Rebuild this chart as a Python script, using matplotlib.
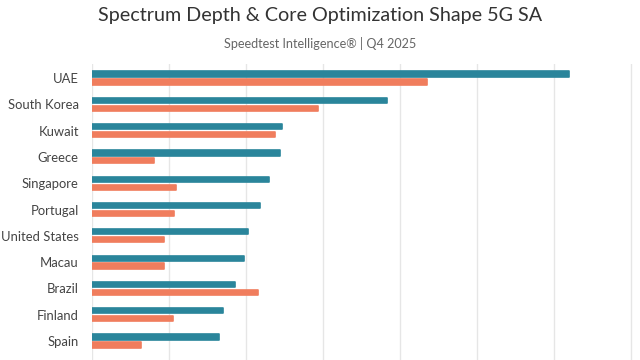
import matplotlib.pyplot as plt
import numpy as np

plt.rcParams['font.family'] = ['Lato', 'DejaVu Sans']

countries = ['UAE', 'South Korea', 'Kuwait', 'Greece', 'Singapore', 'Portugal',
             'United States', 'Macau', 'Brazil', 'Finland', 'Spain']
# values, in gridline units
series_a = [6.19, 3.83, 2.47, 2.44, 2.30, 2.18, 2.02, 1.97, 1.86, 1.70, 1.65]
series_b = [4.35, 2.94, 2.38, 0.81, 1.09, 1.07, 0.94, 0.94, 2.16, 1.05, 0.64]

teal = '#2A859B'
orange = '#F07D5D'

fig = plt.figure(figsize=(6.4, 3.6), dpi=100)
ax = fig.add_axes([92 / 640, 0, 548 / 640, 296 / 360])

y = np.arange(len(countries))
h = 0.2
off = 0.15
ax.barh(y - off, series_a, height=h, color=teal, edgecolor=teal,
        linewidth=1.2, joinstyle='round', zorder=3)
ax.barh(y + off, series_b, height=h, color=orange, edgecolor=orange,
        linewidth=1.2, joinstyle='round', zorder=3)

ax.set_xlim(0, 548 / 77)
ax.set_ylim(10.72, -0.53)
ax.set_xticks(np.arange(0, 8))
ax.set_xticklabels([])
ax.set_yticks(y)
ax.set_yticklabels(countries, fontsize=9.4, color='#444444')
ax.tick_params(axis='y', length=0, pad=9.5)
ax.tick_params(axis='x', length=0)
ax.grid(axis='x', color='#e6e6e6', linewidth=1, zorder=0)
for s in ax.spines.values():
    s.set_visible(False)

fig.text(0.5, 1 - 16 / 360, 'Spectrum Depth & Core Optimization Shape 5G SA',
         ha='center', va='center', fontsize=14.2, color='#333333')
fig.text(0.5, 1 - 44 / 360, 'Speedtest Intelligence® | Q4 2025',
         ha='center', va='center', fontsize=9.1, color='#666666')

fig.savefig('out.png', dpi=100)
